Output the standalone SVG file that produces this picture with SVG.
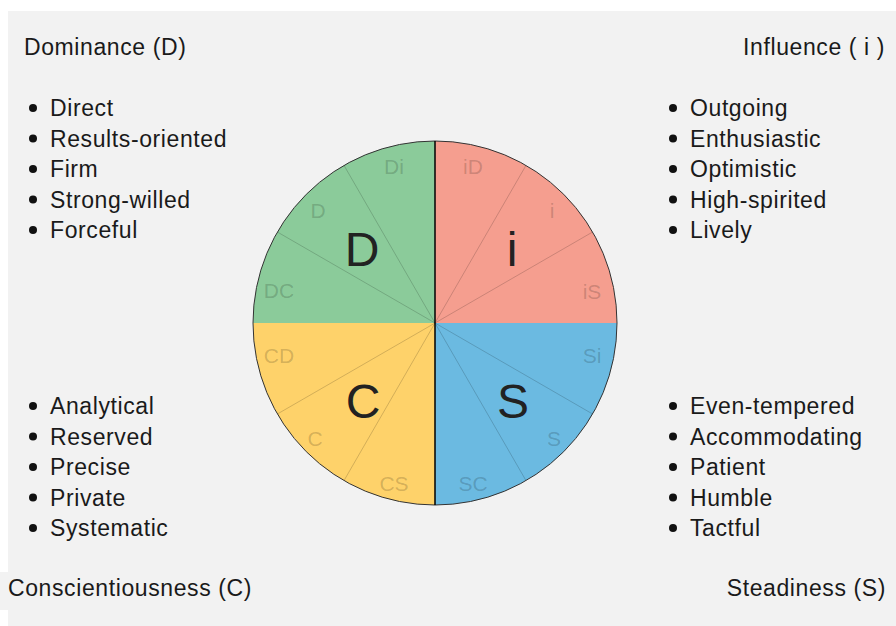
<svg xmlns="http://www.w3.org/2000/svg" width="896" height="626" viewBox="0 0 896 626">
  <style>
    text { font-family: "Liberation Sans", Arial, Helvetica, sans-serif; fill: #1a1a1a; }
    .head { font-size: 23px; letter-spacing: 0.6px; }
    .item { font-size: 23px; letter-spacing: 0.6px; }
    .sub { font-size: 21px; fill: #000; fill-opacity: 0.18; text-anchor: middle; }
    .big { font-size: 48px; fill: #222; text-anchor: middle; }
    .div { stroke: #000; stroke-opacity: 0.22; stroke-width: 0.8; fill: none; }
    .dot { fill: #111; }
  </style>
  <rect x="0" y="0" width="896" height="626" fill="#ffffff"/>
  <rect x="8" y="11" width="888" height="615" fill="#f2f2f2"/>
  <rect x="0" y="572" width="8" height="38" fill="#f2f2f2"/>

  <g id="wheel">
    <g id="quad-D">
      <path d="M435,323 L435,141 A182,182 0 0 0 253,323 Z" fill="#8BCB9A"/>
      <line class="div" x1="435" y1="323" x2="344" y2="165.4"/>
      <line class="div" x1="435" y1="323" x2="277.4" y2="232"/>
      <text class="sub" x="394" y="174">Di</text>
      <text class="sub" x="318" y="218">D</text>
      <text class="sub" x="279" y="298">DC</text>
      <text class="big" x="362" y="266">D</text>
    </g>
    <g id="quad-i">
      <path d="M435,323 L617,323 A182,182 0 0 0 435,141 Z" fill="#F59E8F"/>
      <line class="div" x1="435" y1="323" x2="526" y2="165.4"/>
      <line class="div" x1="435" y1="323" x2="592.6" y2="232"/>
      <text class="sub" x="473" y="174">iD</text>
      <text class="sub" x="552" y="218">i</text>
      <text class="sub" x="592" y="299">iS</text>
      <text class="big" x="512" y="266">i</text>
    </g>
    <g id="quad-S">
      <path d="M435,323 L435,505 A182,182 0 0 0 617,323 Z" fill="#6BBAE1"/>
      <line class="div" x1="435" y1="323" x2="592.6" y2="414"/>
      <line class="div" x1="435" y1="323" x2="526" y2="480.6"/>
      <text class="sub" x="592" y="363">Si</text>
      <text class="sub" x="554" y="446">S</text>
      <text class="sub" x="473" y="491">SC</text>
      <text class="big" x="513" y="418">S</text>
    </g>
    <g id="quad-C">
      <path d="M435,323 L253,323 A182,182 0 0 0 435,505 Z" fill="#FED26A"/>
      <line class="div" x1="435" y1="323" x2="277.4" y2="414"/>
      <line class="div" x1="435" y1="323" x2="344" y2="480.6"/>
      <text class="sub" x="279" y="363">CD</text>
      <text class="sub" x="315" y="446">C</text>
      <text class="sub" x="394" y="491">CS</text>
      <text class="big" x="363" y="418">C</text>
    </g>
    <circle cx="435" cy="323" r="182" fill="none" stroke="#333" stroke-width="1"/>
    <line x1="435" y1="141" x2="435" y2="505" stroke="#000" stroke-width="1.5"/>
  </g>

  <g id="connectors"></g>

  <g id="panel-D">
    <text class="head" x="24" y="55">Dominance (D)</text>
    <circle class="dot" cx="33" cy="108" r="4"/><text class="item" x="50" y="116">Direct</text>
    <circle class="dot" cx="33" cy="138.5" r="4"/><text class="item" x="50" y="146.5">Results-oriented</text>
    <circle class="dot" cx="33" cy="169" r="4"/><text class="item" x="50" y="177">Firm</text>
    <circle class="dot" cx="33" cy="199.5" r="4"/><text class="item" x="50" y="207.5">Strong-willed</text>
    <circle class="dot" cx="33" cy="230" r="4"/><text class="item" x="50" y="238">Forceful</text>
  </g>

  <g id="panel-i">
    <text class="head" x="885" y="55" text-anchor="end">Influence ( i )</text>
    <circle class="dot" cx="673" cy="108" r="4"/><text class="item" x="690" y="116">Outgoing</text>
    <circle class="dot" cx="673" cy="138.5" r="4"/><text class="item" x="690" y="146.5">Enthusiastic</text>
    <circle class="dot" cx="673" cy="169" r="4"/><text class="item" x="690" y="177">Optimistic</text>
    <circle class="dot" cx="673" cy="199.5" r="4"/><text class="item" x="690" y="207.5">High-spirited</text>
    <circle class="dot" cx="673" cy="230" r="4"/><text class="item" x="690" y="238">Lively</text>
  </g>

  <g id="panel-C">
    <circle class="dot" cx="33" cy="406" r="4"/><text class="item" x="50" y="414">Analytical</text>
    <circle class="dot" cx="33" cy="436.5" r="4"/><text class="item" x="50" y="444.5">Reserved</text>
    <circle class="dot" cx="33" cy="467" r="4"/><text class="item" x="50" y="475">Precise</text>
    <circle class="dot" cx="33" cy="497.5" r="4"/><text class="item" x="50" y="505.5">Private</text>
    <circle class="dot" cx="33" cy="528" r="4"/><text class="item" x="50" y="536">Systematic</text>
    <text class="head" x="8" y="596">Conscientiousness (C)</text>
  </g>

  <g id="panel-S">
    <circle class="dot" cx="673" cy="406" r="4"/><text class="item" x="690" y="414">Even-tempered</text>
    <circle class="dot" cx="673" cy="436.5" r="4"/><text class="item" x="690" y="444.5">Accommodating</text>
    <circle class="dot" cx="673" cy="467" r="4"/><text class="item" x="690" y="475">Patient</text>
    <circle class="dot" cx="673" cy="497.5" r="4"/><text class="item" x="690" y="505.5">Humble</text>
    <circle class="dot" cx="673" cy="528" r="4"/><text class="item" x="690" y="536">Tactful</text>
    <text class="head" x="886" y="596" text-anchor="end">Steadiness (S)</text>
  </g>
</svg>
